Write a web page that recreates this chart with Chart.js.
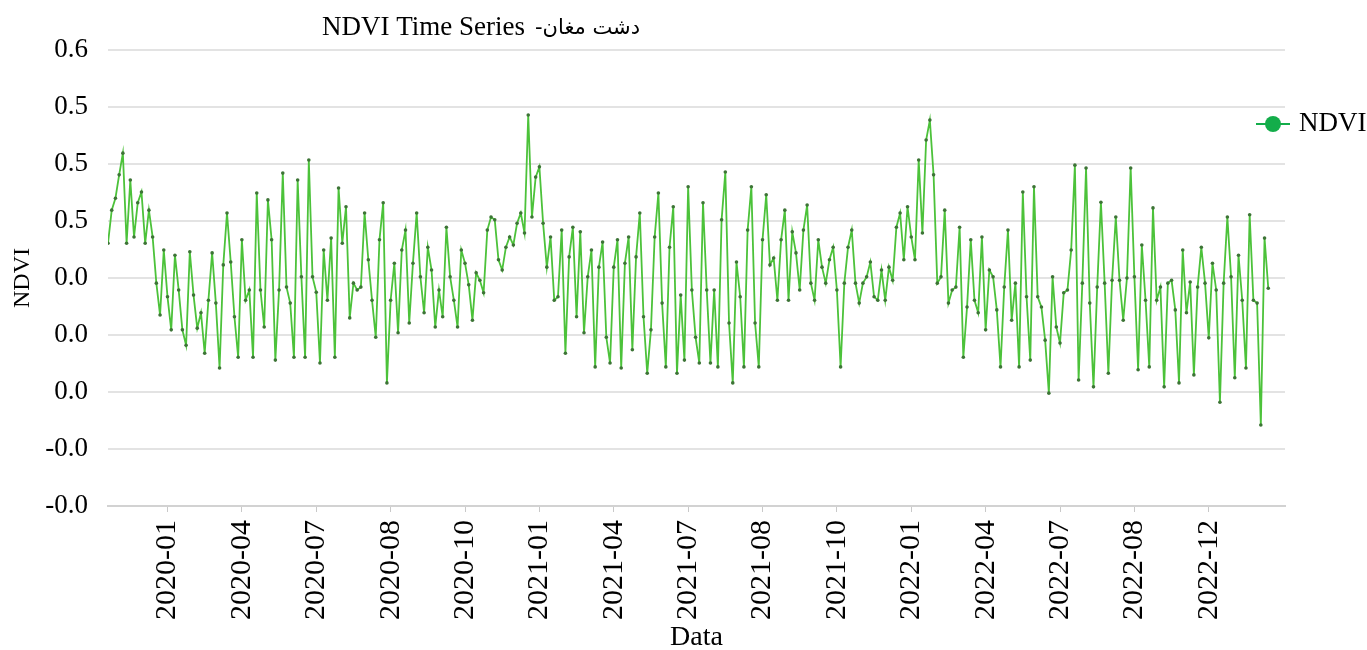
<!DOCTYPE html>
<html>
<head>
<meta charset="utf-8">
<title>NDVI Time Series</title>
<script src="https://cdn.jsdelivr.net/npm/chart.js@4.4.0/dist/chart.umd.min.js"></script>
<style>
  html, body { margin: 0; padding: 0; background: #fff; }
</style>
</head>
<body>
<canvas id="chart-canvas" width="1367" height="650"></canvas>
<script>
const titleMain = "NDVI Time Series";
const titleRegion = "-دشت مغان";
const seriesName = "NDVI";
const xTitle = "Data";
const yTitle = "NDVI";

// labels shown under the axis (one every 20 observations, starting at #16)
const xTickLabels = ["2020-01", "2020-04", "2020-07", "2020-08", "2020-10", "2021-01", "2021-04",
  "2021-07", "2021-08", "2021-10", "2022-01", "2022-04", "2022-07", "2022-08", "2022-12"];
const firstTickIndex = 16;
const tickEvery = 20;

// y labels, bottom to top (as printed on the original)
const yTickLabels = ["-0.0", "-0.0", "0.0", "0.0", "0.0", "0.5", "0.5", "0.5", "0.6"];

// NDVI readings, in order of acquisition
const ndviA = [
  0.261, 0.319, 0.340, 0.381, 0.419, 0.261, 0.372, 0.272, 0.332, 0.351,
  0.261, 0.319, 0.272, 0.191, 0.135, 0.249, 0.167, 0.109, 0.240, 0.179,
  0.109, 0.082, 0.246, 0.170, 0.112, 0.139, 0.068, 0.161, 0.244, 0.156,
  0.042, 0.223, 0.314, 0.228, 0.132, 0.061, 0.267, 0.161, 0.179, 0.061,
  0.349, 0.179, 0.114, 0.337, 0.267, 0.056, 0.179, 0.384, 0.184, 0.156,
  0.061, 0.372, 0.202, 0.061, 0.407, 0.202, 0.175, 0.051, 0.249, 0.161,
  0.270, 0.061, 0.358, 0.261, 0.325, 0.130, 0.191, 0.179, 0.184, 0.314,
  0.232, 0.161, 0.096, 0.267, 0.332, 0.016, 0.161, 0.226, 0.104, 0.249,
  0.284, 0.121, 0.226, 0.314, 0.202, 0.139, 0.254, 0.214, 0.114, 0.179,
  0.132, 0.289, 0.202, 0.161, 0.114, 0.249, 0.226, 0.188, 0.126, 0.209,
  0.196, 0.174, 0.284, 0.307
];
const ndviB = [
  0.302, 0.232, 0.214, 0.254, 0.272, 0.258, 0.296, 0.314, 0.279, 0.486,
  0.307, 0.377, 0.395, 0.296, 0.219, 0.272, 0.161, 0.167, 0.284, 0.068,
  0.237, 0.289, 0.132, 0.281, 0.104, 0.202, 0.249, 0.044, 0.219, 0.263,
  0.096, 0.051, 0.219, 0.267, 0.042, 0.226, 0.272, 0.074, 0.237, 0.314,
  0.132, 0.033, 0.109, 0.272, 0.349, 0.156, 0.044, 0.254, 0.325, 0.033,
  0.170, 0.056, 0.360, 0.179, 0.096, 0.051, 0.332, 0.179, 0.051, 0.179,
  0.044, 0.302, 0.386, 0.121, 0.016, 0.228, 0.167, 0.044, 0.284, 0.360,
  0.121, 0.044, 0.267, 0.346, 0.223, 0.235, 0.161, 0.267, 0.319, 0.161,
  0.281, 0.244, 0.179, 0.284, 0.328, 0.191, 0.161, 0.267, 0.219, 0.191,
  0.232, 0.254, 0.179, 0.044, 0.191, 0.254, 0.284, 0.191, 0.156, 0.191,
  0.202, 0.228, 0.167, 0.161
];
const ndviC = [
  0.214, 0.161, 0.219, 0.196, 0.289, 0.314, 0.232, 0.325, 0.272, 0.232,
  0.407, 0.279, 0.442, 0.477, 0.381, 0.191, 0.202, 0.319, 0.156, 0.179,
  0.184, 0.289, 0.061, 0.149, 0.267, 0.161, 0.139, 0.272, 0.109, 0.214,
  0.202, 0.144, 0.044, 0.184, 0.284, 0.126, 0.191, 0.044, 0.351, 0.167,
  0.056, 0.360, 0.167, 0.149, 0.091, -0.002, 0.202, 0.114, 0.086, 0.174,
  0.179, 0.249, 0.398, 0.021, 0.191, 0.393, 0.156, 0.009, 0.184, 0.333,
  0.191, 0.033, 0.196, 0.307, 0.196, 0.126, 0.200, 0.393, 0.202, 0.039,
  0.258, 0.161, 0.044, 0.323, 0.161, 0.184, 0.009, 0.191, 0.196, 0.144,
  0.016, 0.249, 0.139, 0.193, 0.030, 0.184, 0.254, 0.191, 0.095, 0.226,
  0.179, -0.018, 0.191, 0.307, 0.202, 0.025, 0.240, 0.161, 0.042, 0.311,
  0.161, 0.156, -0.058, 0.270, 0.182
];

const ndvi = ndviA.concat(ndviB, ndviC);
const points = ndvi.map((v, i) => ({ x: i, y: v }));

const lineColor = "#4cc23a";
const dotColor = "#3d7436";
const keyColor = "#13ad4a";
const serif = "'Liberation Serif', 'Times New Roman', serif";

Chart.defaults.font.family = serif;
Chart.defaults.color = "#000";

// title and key are placed by hand, like in the original picture
const titleAndKey = {
  id: "titleAndKey",
  afterDraw(chart) {
    const ctx = chart.ctx;
    const area = chart.chartArea;
    ctx.save();
    ctx.textBaseline = "middle";
    ctx.textAlign = "left";
    ctx.fillStyle = "#000";
    ctx.font = "27px " + serif;
    const tx = area.left + 214;
    ctx.fillText(titleMain, tx, 28);
    const w = ctx.measureText(titleMain).width;
    ctx.font = "21px 'DejaVu Sans', sans-serif";
    ctx.fillText(titleRegion, tx + w + 10, 29);

    const ky = area.top + 74;
    const kx = area.right - 12;
    ctx.strokeStyle = keyColor;
    ctx.lineWidth = 2;
    ctx.beginPath();
    ctx.moveTo(kx - 17, ky);
    ctx.lineTo(kx + 17, ky);
    ctx.stroke();
    ctx.beginPath();
    ctx.arc(kx, ky, 8, 0, Math.PI * 2);
    ctx.fillStyle = keyColor;
    ctx.fill();
    ctx.fillStyle = "#000";
    ctx.font = "27px " + serif;
    ctx.fillText(chart.data.datasets[0].label, kx + 26, ky);
    ctx.restore();
  },
};

const ctx = document.getElementById("chart-canvas").getContext("2d");
const chart = new Chart(ctx, {
  type: "line",
  data: {
    datasets: [
      {
        label: seriesName,
        data: points,
        borderColor: lineColor,
        borderWidth: 1.8,
        pointRadius: 1.8,
        pointBackgroundColor: dotColor,
        pointBorderColor: dotColor,
        pointBorderWidth: 0,
        tension: 0,
        fill: false,
      },
    ],
  },
  options: {
    responsive: false,
    animation: false,
    layout: { padding: { top: 50, right: 82, left: 6, bottom: 0 } },
    plugins: {
      legend: { display: false },
      tooltip: { enabled: false },
    },
    scales: {
      x: {
        type: "linear",
        min: 0,
        max: 316.5,
        afterBuildTicks: (scale) => {
          scale.ticks = xTickLabels.map((_, j) => ({ value: firstTickIndex + j * tickEvery }));
        },
        afterFit: (scale) => {
          scale.height = 144;
        },
        ticks: {
          autoSkip: false,
          minRotation: 90,
          maxRotation: 90,
          padding: 8,
          font: { size: 30 },
          callback: (value, i) => xTickLabels[i],
        },
        grid: { drawOnChartArea: false, drawTicks: true, tickLength: 6, color: "#c9c9c9" },
        border: { display: true, color: "#d2d2d2", width: 2 },
        title: { display: true, text: xTitle, font: { size: 28 }, padding: { top: 0, bottom: -4 } },
      },
      y: {
        min: -0.2,
        max: 0.6,
        afterFit: (scale) => {
          scale.width = 102;
        },
        ticks: {
          count: 9,
          padding: 20,
          font: { size: 27 },
          callback: (value, i) => yTickLabels[i],
        },
        grid: { color: "#e3e3e3", lineWidth: 2, drawTicks: false },
        border: { display: false },
        title: { display: true, text: yTitle, font: { size: 24 }, padding: { top: 2, bottom: 4 } },
      },
    },
  },
  plugins: [titleAndKey],
});
</script>
</body>
</html>
